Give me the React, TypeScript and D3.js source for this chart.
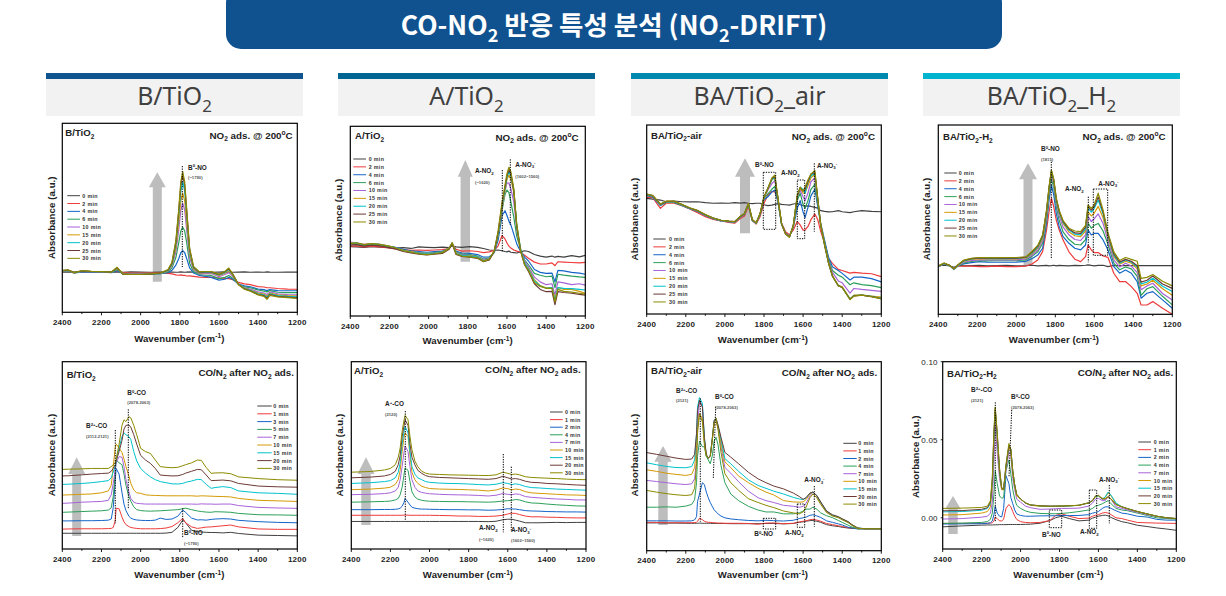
import React from "react";
import * as d3 from "d3";

const seriesColors = ["#404040", "#ee3b3b", "#1565c8", "#2ca05a", "#a763d8", "#d49a06", "#00c2cc", "#6b3a36", "#8c8a00"];
const namesTop = ["0 min", "2 min", "4 min", "6 min", "10 min", "15 min", "20 min", "25 min", "30 min"];
const namesB1 = ["0 min", "1 min", "3 min", "5 min", "7 min", "10 min", "15 min", "20 min", "30 min"];
const namesBot = ["0 min", "1 min", "2 min", "4 min", "7 min", "10 min", "15 min", "20 min", "30 min"];
const headers = ["B/TiO_{2}", "A/TiO_{2}", "BA/TiO_{2}_air", "BA/TiO_{2}_H_{2}"];
const headerColors = ["#0f548f", "#006593", "#0088ae", "#00b4d0"];
const xTicks = [2400, 2300, 2200, 2100, 2000, 1900, 1800, 1700, 1600, 1500, 1400, 1300, 1200];

// ---- B/TiO2, NO2 adsorption
const waveT1 = [2400,2370,2340,2300,2250,2200,2150,2120,2090,2050,2000,1950,1900,1860,1840,1820,1805,1795,1785,1775,1765,1750,1730,1700,1670,1640,1600,1570,1550,1530,1500,1470,1440,1400,1370,1355,1340,1300,1250,1200];
const t1 = [
[21.3,21.4,21.2,21.4,21.3,21.2,21.4,21.3,21.2,21.4,21.3,21.2,21.3,21.4,21.3,21.2,21.3,21.4,21.3,21.2,21.3,21.4,21.2,21.3,21.4,21.2,21.3,21.4,21.3,21.2,21.3,21.4,21.2,21.3,21.2,21.4,21.3,21.2,21.3,21.3],
[21.5,21.8,20.8,21.5,21.6,21.5,21.6,21.8,21,20.8,20.8,20.8,20.8,20.6,20.3,19.8,19.6,19.8,19.5,19.6,19.2,19.3,19,18.6,18.4,18.6,18.2,18,17.8,17.2,15.8,15,14.6,13.6,13.4,13,13,12.6,12.3,12.2],
[21.6,21.9,20.8,21.3,21.3,21.4,21,22,20.4,20.3,20.3,20.4,20.5,21,22.2,25,28.5,31.5,32.6,31.5,28.5,23.5,20.8,19.5,19,18.5,17,17.5,18.5,17.5,15,14,13.5,12.3,12,11.5,12,11.5,11.4,11.4],
[21.7,22,20.9,21.6,21.5,21.4,21.1,22.5,20.3,20.2,20.2,20.3,20.5,21.4,23.5,29,37,43,45,43,37,26,21.5,20,19.6,19.5,17.8,18.5,19.5,18,14.8,13.5,13,11.8,11.2,10.8,11.5,10.6,10.4,10.4],
[21.8,22,21,21.7,21.5,21.4,21.2,23,20.4,20.2,20.2,20.3,20.6,21.8,24.5,32,44,54,57.7,54,44,29,22.5,20.5,20.5,20.5,18.8,20,21,19,14.8,13,12.3,10.8,10.2,9.4,10.8,9.8,9.4,9.2],
[21.9,22.2,21,21.8,21.6,21.5,21.2,23.2,20.3,20.1,20.1,20.3,20.6,22,25,34,48,59,63,59,48,31,23,20.8,21,21,19.5,20.6,22,19.6,14.7,12.8,11.8,10.2,9.6,8.6,10.2,9.2,8.8,8.6],
[22,22.2,21,21.8,21.6,21.5,21.2,23.4,20.2,20,20,20.2,20.6,22.2,25.5,36,52,64,69,64,52,32.5,23.5,21,21.2,21.2,19.8,21,22.6,20,14.8,12.6,11.6,9.8,9.2,8,9.8,8.8,8.4,8.2],
[22,22.3,21.1,21.9,21.6,21.5,21.3,23.5,20.2,20,20,20.2,20.7,22.4,26,37,54,67,72.7,67,54,33.5,24,21.2,21.4,21.4,20,21.4,23,20.2,14.7,12.4,11.4,9.4,8.8,7.4,9.4,8.4,8,7.6],
[22.2,22.4,21,22,21.7,21.6,21.3,23.8,20.2,20,20,20.3,20.8,22.6,26.5,38,55,69,74.4,69,55,34,24.2,21.4,21.6,21.6,20.2,21.6,23.4,20.4,14.6,12.2,11.2,9.2,8.4,6.8,9,8.2,7.8,7.4],
];

// ---- A/TiO2, NO2 adsorption
const waveT2 = [2400,2370,2330,2290,2250,2210,2170,2130,2090,2050,2010,1970,1930,1895,1880,1860,1830,1790,1750,1720,1690,1665,1645,1625,1610,1600,1590,1580,1565,1550,1530,1510,1490,1460,1430,1400,1370,1355,1340,1310,1270,1230,1200];
const t2 = [
[36.6,36.4,36.2,36.5,36.3,36,35.8,36,35.6,36.4,36.2,36,36.3,36.1,37,36.4,36.2,36.6,36.2,35.6,34.8,34.6,34.8,34.4,34,33.8,34.2,33.6,33.4,33.2,33.8,34.4,34,32.4,31.6,31,31.6,31,31.4,31,31.8,31.2,32],
[36.8,37,36.4,36.8,36.4,36,35.4,35,34.6,34.8,34.6,34.8,35,35.6,37.8,35.2,34.2,34.4,34,33.4,33.8,34.6,37,42.4,40.6,38.5,36.8,35.8,34.8,34.2,33.6,32,30.4,28.4,27.4,27.4,28,26.5,28.6,28.4,28.2,28,28.3],
[38,37.8,37.2,37.8,37.4,36.8,36.2,35.2,34.4,34,33.6,34,34.2,35.6,38.2,34.2,33.2,33,32.4,31,31.2,33.4,40,53,55.5,53,50,48,43,38,34,31,29,24.5,23,22.5,22.6,18,24,23.8,23,22.6,22],
[38.4,38,37.4,38,37.6,36.8,36,34.8,34,33.4,33,33.4,33.8,35.8,38.4,33.8,32.6,32.4,31.6,30,30.6,33.6,42,56,64,66.4,65,60,52,42,35,29.5,27,22.5,21.5,20.7,21,15,22,21.5,21,20.6,20.4],
[39,38.6,37.8,38.2,37.8,37,36,34.6,33.8,33.2,32.8,33.2,33.6,35.8,38.6,33.4,32.2,32,31.2,29.6,30.2,34,43,57,66,70,70,67,60,46,35,29,26,20.5,18,16.5,17,11,18,17.5,16.5,17,16.3],
[38.6,38.4,37.6,38.2,37.6,37,35.8,34.6,33.8,33,32.6,33,33.6,35.8,38.6,33.2,32,31.8,31,29.2,30,34,43,57,66,72,74.3,72,65,48,35,28,25,19,16,14.8,15,9,15,14,14,13,12],
[38.2,38.6,37.4,38,37.8,36.8,36,34.4,33.6,33,32.6,33,33.4,35.6,38.4,33,32,31.6,31,29,30,34,43.5,58,67,73,76,74,66,48,35,28,24.5,18.5,15.8,14.6,15,8,15,14.6,14.4,14,13.7],
[37.4,37.6,36.8,37.4,37,36.2,35.4,34,33.2,32.6,32.2,32.6,33,35.2,38,32.4,31.4,31,30.4,28.6,29.6,34,44,59,68,74,77,75,66,47,34,27,23.5,17,14,12.8,13,6,12.8,12.4,12,11.4,11],
[38,38.6,37.6,38.2,37.8,37,36,34.4,33.6,32.8,32.4,32.8,33.4,35.6,38.6,32.8,31.6,31.2,30.6,28.8,30,34.4,45,60,69,75,78.4,76,67,48,34,27,24,17.6,15.6,14.6,14.6,7.5,14,13,12.6,12,11.5],
];

// ---- BA/TiO2-air, NO2 adsorption
const waveT3 = [2400,2370,2330,2300,2260,2220,2180,2140,2100,2060,2020,1980,1950,1920,1900,1880,1860,1840,1820,1800,1780,1760,1745,1730,1710,1690,1670,1650,1630,1615,1600,1590,1575,1560,1540,1525,1510,1490,1470,1450,1420,1400,1360,1340,1300,1250,1200];
const t3 = [
[61.2,60.8,60.3,59.4,59.8,59.4,59.3,59.4,58.9,58.6,58.7,58.6,58.9,58.7,58.9,58.6,58.4,58.6,58.6,57.8,57.3,57.6,58,58.4,58,57.8,57.6,58.2,58.6,57.8,57.4,56.9,57.2,56.9,56.4,56,54.7,54.3,54,54.1,54.7,54.1,53.6,54.1,54.7,54.3,54.1],
[61.7,61.7,55.9,58.6,58.6,57.3,55.6,53.6,51.5,50.1,49.2,48.5,48,50.6,51.9,56.8,49.4,47.6,51.5,58.6,63,64.8,64.8,60.4,48,43.6,41.9,44.4,48.9,47.1,44.4,44.4,46.3,49.9,52.9,49.9,43.7,37.5,29.5,26.8,23.6,23,21.6,22,21.6,21.3,19.8],
[62.6,62,57.4,59,59,57.4,55.7,54.3,52.2,50.4,49.3,48.8,48.5,51.3,52.7,58,49.5,47.9,52.7,60.5,62,64.5,65.6,60,47.6,42.7,40.9,46,56,60,54,51,56.4,62.5,66,56.8,48,39,30,25,23,21.5,18,19.5,19.5,18.7,17],
[62.8,62.2,57.6,59.2,59.2,57.5,55.8,54.4,52.3,50.5,49.4,48.9,48.6,51.4,52.8,58.1,49.6,48,52.8,61,63.5,66,67.5,60.5,47.6,42.7,40.9,46.4,60,64,58,56,60,66,68.5,58,47.5,38,29,23,20.5,19.5,15.5,16.5,15.5,15,14],
[63,62.4,57.8,59.4,59.4,57.7,55.9,54.5,52.4,50.6,49.4,48.9,48.7,51.5,52.9,58.2,49.7,48,52.9,61.5,65.5,69,70.5,61.5,47.6,42.7,40.9,46.6,62,65.5,62,60,64,70,72,60,47.5,37,28,22,17.5,16.5,11,13.5,13,12.5,12],
[63.2,62.6,58,59.6,59.5,57.9,56,54.6,52.5,50.7,49.5,49,48.8,51.6,53,58.3,49.8,48.1,53,61.7,66,71,72,62,47.6,42.5,40.8,46.6,62,66.5,64,64,68,72,74,61,47.5,37,27,20.5,15,14.5,8,10,10,9.5,9],
[63.1,62.5,57.9,59.5,59.4,57.8,56,54.6,52.4,50.7,49.5,49,48.8,51.6,53,58.2,49.8,48.1,53,61.7,66.5,71,72.5,62,47.5,42.6,40.8,46.8,62,67,66,64,70,73,74.5,61,47,36.5,27,20,15,14,8,9.8,10,9.3,8.3],
[63.3,62.7,58.1,59.6,59.6,57.9,56.1,54.7,52.5,50.8,49.6,49.1,48.9,51.7,53.1,58.4,49.9,48.2,53.1,61.8,66.5,71.5,73,62.2,47.6,42.5,40.7,46.8,62,67,65,66,70,74,75,61,47,36.5,27,20,15,14,7.8,9.6,10,9.2,8.2],
[63.4,62.8,58.2,59.7,59.7,58,56.2,54.8,52.6,50.8,49.6,49.1,48.9,51.8,53.2,58.5,50,48.2,53.2,62,66.5,72,73.5,62.5,47.7,42.4,40.6,47,63,67,65,67,71,74,76,61,47,36.5,27,20,15,14,7.6,9.5,10,9.2,8],
];

// ---- BA/TiO2-H2, NO2 adsorption
const waveT4 = [2400,2370,2340,2320,2300,2270,2230,2190,2150,2100,2050,2000,1950,1920,1890,1865,1845,1832,1820,1808,1795,1780,1760,1730,1700,1670,1645,1632,1615,1600,1580,1555,1530,1500,1470,1440,1410,1380,1360,1330,1300,1250,1200];
const t4 = [
[25.7,25.9,25.5,24.8,25.8,25.6,25.7,25.8,25.6,25.7,25.8,25.6,25.7,25.9,25.6,25.7,25.8,25.6,25.7,25.9,25.6,25.8,25.7,25.6,25.8,25.7,25.9,26.1,25.8,25.6,25.8,25.9,25.2,25.8,25.7,25.7,25.7,25.7,25.7,25.7,25.7,25.7,25.7],
[25.2,26.6,25.7,23.8,25.5,25.5,25.5,25.2,25.2,25.5,25.2,25.2,25.5,26.6,28.7,33.1,44.5,54.2,61.3,56.8,49.8,44.5,39.2,33,29.1,27.8,30.5,36.6,34,32.6,32.6,30.8,30.1,21.7,17.3,17.3,14.6,11.1,4.9,4.9,6.7,3.2,0],
[25.2,26.6,25.7,23.8,25.5,26.6,27.3,27.8,27.6,27.5,27.5,27.6,28,29.4,31.3,34.9,48,60.4,68.3,63,53.3,46.3,41,37.5,34.9,34,36.6,44.5,41.9,42.8,42.8,39.3,34,25.2,21.7,23.4,21.7,17.3,8.5,11.1,12,7.6,3.2],
[25.2,26.8,25.7,23.8,25.5,27,28,28.3,28.2,28.3,28.3,28.3,28.8,30.6,33,37.5,50,63,71.8,67,57,49.5,43.5,39.5,37,36.6,39.5,48,45.5,47,48,44,37,27,23.5,25,24,20,10,13.5,14.6,9.5,5],
[25.3,26.8,25.6,23.9,25.6,27.5,28.4,28.7,28.7,28.7,28.7,28.8,29.3,31.2,34,39,52,65,73.6,69,59,52,46,42,39.5,39,42,51.6,49,50.5,53,48,39,28.7,25,27,25.5,22,13,15,16.4,11,7.6],
[25.4,26.9,25.6,23.9,25.8,28,29,29.3,29.2,29.2,29.2,29.3,29.8,32,35,40,53,66,74.8,70,60,53.5,48,43.5,41.5,41,44,54,52,53.5,57,51,41,30.5,26.5,28,27,24,15,16,18,13.5,10],
[25.4,26.9,25.6,23.9,25.9,28.2,29.2,29.6,29.4,29.4,29.4,29.5,30,32.4,35.5,41,54,66.5,75.4,70.5,60.5,54,48.5,44.5,42.4,42,45,56,54,56,60.4,53,42,31.3,27,28.7,27.6,25,16,17,19,14.8,12],
[25.5,27,25.7,24,26,28.4,29.4,29.8,29.7,29.7,29.7,29.7,30.2,32.8,36,41.5,54.5,67,75.9,71,61,54.5,49,45,43,42.8,46,56.9,55,57,62,54,42.5,32,27.6,29,28,25.6,17,18,20.2,16,13.7],
[25.6,27.1,25.7,24,26.1,28.6,29.6,30,29.9,29.9,30,30,30.4,33.2,36.4,42,55,67.5,76.2,71.5,61.5,55,49.5,45.5,44,43.7,47,57.7,56,58,64,55,43,33,28.4,30,29,28,19,19.5,21,17.5,15],
];

// ---- B/TiO2, CO/N2
const waveB1 = [2400,2370,2300,2250,2200,2165,2150,2140,2130,2125,2110,2095,2085,2075,2060,2050,2035,2020,2000,1975,1950,1925,1900,1870,1840,1810,1785,1770,1740,1710,1690,1665,1640,1620,1580,1540,1500,1400,1300,1200];
const b1 = [
[8.4,8.4,8.4,8.4,8.4,8.4,8.4,8.4,8.4,8.4,8.4,8.4,8.4,8.4,8.4,8.4,8.4,8.4,8.4,8.4,8.4,8.4,8.4,8.5,8.9,11.5,15.5,14,10,9.3,9.1,8.9,8.8,8.8,8.6,8.9,8.3,7.4,7.2,7],
[10.6,10.7,10.8,10.8,10.8,10.9,11,11.5,15,21.7,21.5,17,14.5,13,12,11.5,11.2,11,10.8,10.8,10.8,10.8,10.9,11.2,12,14,16.4,14,11.8,11,11.3,11.7,11.8,12,12.4,12.8,11.8,10.7,10.5,10.5],
[15,15,15.1,15.1,15.2,15.4,16,22,36,43,40,30,24,20.5,17.5,16.5,15.8,15.5,15.3,15.2,15.2,15.4,16.5,15.8,16,17.5,20.8,19.5,16.5,15.5,15.6,15.4,15.8,16,16.2,16,15.3,14.6,14.2,14],
[19.6,19.7,20,20.2,20.4,20.8,22,28,40,47.5,46,45,40,34,28,25.5,22.5,21,20.5,20.3,20.2,20.3,20.4,20.6,20.8,21,21.5,21.8,21,20.3,20,19.7,19.6,19.9,19.8,19.6,19,18.3,18.2,18],
[24.4,24.5,25,25.2,25.4,26,29,35,42,46,49.3,49,44,37,30.5,27,25,24.4,24.2,24,24,24,24,24,24,24,24,24,24,23.9,24.1,24,24,23.9,24,24,23.2,22.2,21.9,21.7],
[28.8,28.9,29.2,29.4,30,31,34,44,54,56,54,51.5,48,44,39,35,31.5,30,29.7,28.9,28.7,28.6,28.5,28.4,28.4,28.4,28.4,28.4,28.4,28.2,28.4,28.3,28.2,28.1,28,27.8,27,26,25.7,25.4],
[34.5,34.6,35,35.4,36,36.5,38,41,44,47,54,60,62,61,60,58.5,52,47,43,40.5,38.5,37,36,35.4,34.8,34.7,35,35.6,36.3,37.2,37,34.5,32.4,32.8,33.3,32.8,31,30,29.7,29.2],
[39,39.1,39.6,40,40.3,40.5,41.5,43,45,47,52,58,64,66,66.2,65,61,56,50,47.5,45.7,43,39.5,39.2,39,39.1,39.8,40.5,41.5,42.5,42.3,39.5,36.5,36.6,36.8,36.4,35,33.6,33.2,33],
[42.5,42.6,42.8,43,43,43,44,45,46,48,56,66,69,68,70.6,70,66,61,53.7,52,51,47.5,44,43.6,43.4,43.6,44.5,45,46,47.5,47.3,43.5,40.4,40.6,40.7,40.2,38.5,37.6,37,36.7],
];

// ---- A/TiO2, CO/N2
const waveB2 = [2400,2300,2230,2200,2175,2160,2150,2140,2130,2125,2110,2100,2090,2075,2060,2040,2020,2000,1950,1900,1850,1800,1750,1700,1660,1625,1600,1580,1560,1540,1510,1480,1440,1400,1350,1300,1250,1200];
const b2 = [
[14.7,14.7,14.7,14.7,14.7,14.7,14.7,14.7,14.7,14.7,14.7,14.7,14.7,14.7,14.7,14.7,14.7,14.7,14.7,14.7,14.7,14.7,14.7,14.6,14.8,15.6,15.9,15.9,15.4,14.9,14,14,14,14.1,14.2,14.1,14.2,14.2],
[18,18,18,18,18,18,18,18,18.1,18.1,18.1,18,18,18,18,18,18,18,17.9,17.8,17.6,17.6,17.4,17.4,17.6,18,18.7,19.1,19,18.4,17.6,17.2,17.2,17,16.9,16.7,16.6,16.6],
[21,21,21.1,21.1,21.2,21.4,21.8,22.8,25,27,25,23.5,22.3,21.8,21.5,21.3,21.3,21.2,21.1,21,21,20.9,20.9,20.7,20.8,21.1,21.5,21.4,21.3,21,20.5,20.3,20.2,20,19.9,19.8,19.8,19.7],
[25,25.2,25.4,25.6,26.2,27,29,33,40,43.2,42,36,30.5,27.8,26.6,26,25.7,25.5,25.4,25.3,25.3,25.2,25.1,25,25.2,25.6,25.8,26,26.4,26.2,25.2,24.6,24.4,24,23.6,23.3,23,22.9],
[29,29.2,29.6,30,31,33,37,44,52,55,52,44,37,33,31,30.2,29.8,29.5,29.2,29,28.9,28.8,28.6,28.3,28.7,29.6,29.2,29,29.4,29.2,28,27.6,27.3,27,26.7,26.5,26.2,26.2],
[31.7,32,32.5,33,34.5,37,42,52,60,62,60,50,41,37,35,33.5,32.8,32.3,32,31.9,31.8,31.6,31.4,31,31.5,32.6,32.2,31.6,32,31.8,30.6,30,29.7,29.5,29.2,28.9,28.8,28.6],
[35,35.4,36,36.5,38,41,46,56,63,65.5,62,52,44,40,38,37,36,35.6,35.2,35,34.9,34.7,34.4,34.2,34.6,35.4,35,34.4,34.8,34.4,33.4,32.8,32.6,32.3,32,31.8,31.6,31.4],
[38,38.4,39,39.8,41.5,45,50,60,66,69,66,56,49,45,42,40.4,39.2,38.6,38.2,38,37.8,37.6,37.4,37.2,37.6,38.8,38,37.4,37.6,37.2,36.2,35.6,35.4,35,34.8,34.5,34.2,34],
[41,41.4,42.2,43,45,49,54,63,69,71.3,69,60,53,47,44,41.5,40.5,40,39.8,39.6,39.5,39.4,39.3,39.2,39.6,41,40.4,39.8,40,39.6,38.6,38.2,38,37.8,37.6,37.3,37.1,37],
];

// ---- BA/TiO2-air, CO/N2
const waveB3 = [2400,2350,2300,2250,2200,2170,2155,2145,2140,2130,2115,2105,2095,2085,2075,2065,2055,2045,2035,2020,2000,1970,1930,1880,1830,1790,1750,1700,1650,1620,1600,1585,1565,1550,1530,1510,1480,1450,1420,1400,1370,1350,1320,1280,1200];
const b3 = [
[14.7,14.7,14.6,14.6,14.5,14.5,14.5,14.5,14.5,14.6,14.5,14.5,14.5,14.5,14.5,14.4,14.4,14.4,14.4,14.4,14.4,14.3,14.3,14.3,14.3,14.4,14.4,14.2,14.4,15,15.3,15.6,15.9,16,15.6,15,13.8,13.2,12.8,12.4,12,11.8,11.6,11.6,11.6],
[15,15,14.8,14.8,14.8,14.8,14.9,15,15.5,17.2,16.4,15.6,15.2,15,15,14.9,14.8,14.7,14.6,14.6,14.5,14.5,14.5,14.4,14,14.6,14.7,14.3,14.5,15.2,15.6,15.8,16.4,16.6,16.2,15.6,14.4,13.8,13.2,12.8,12.2,12,11.7,11.6,11.6],
[15.8,15.8,15.8,15.7,15.7,15.8,16.3,18,26,30,36,35,31,28,25.5,23.5,21.6,20.5,19.5,18.3,17.4,16.8,16.4,16,15.8,16.1,15.9,15.7,16.1,17,17.4,17.8,18.7,19,18.4,17.6,15.8,15,14.2,13.6,12.4,12,11.6,11.6,11.6],
[23,23,23.2,23,23.6,24.5,27,36,50,58,55,55,50,48,46,50,58,60,56,45,36,30,26.5,23.5,21.5,20.5,20.5,19.5,19.5,20,21,22,22,23,22,20,18.5,17.5,16,15,13.5,12.5,11.6,11.6,11.6],
[37.2,36.6,36,35.4,35,35.4,38,48,65,79.6,76,58,50,49,50,58,68,69,65,55,44,41,36.5,31.5,28,26.5,25.5,24,23.5,23,23.5,25,29,31,29,25.5,20.5,18.6,17.7,16.5,15,13.5,11.8,11.6,11.6],
[42.8,42,41,40.4,39.8,40.4,44,56,65,72.5,70,58,50,49,50,58,67,68,65,57,47,44,39.5,36,33,31,29.5,26.5,25.8,25.7,25.8,27,30,31,29,25.5,20.8,18.8,17.8,16.7,15.2,13.6,11.9,11.6,11.6],
[46.5,45.5,44.6,44,43.9,44.5,48,62,76,81,78,60,50,49,50,59,69,70,66,59,48.7,46,42,37.5,34.5,33,31.5,30,28.2,27.4,27,28,30.5,31,29.2,25.8,21,18.9,17.9,16.8,15.3,13.7,12,11.6,11.6],
[51.9,51,50,49,48.3,48.5,51,62,74,79.6,76,60,51,49,50,59,69,70,66.5,60,52,49.5,46,41.5,38,36,34.2,32.7,30.5,28.7,27.2,28,30.5,31,29.2,25.8,21,19,18,16.9,15.4,13.8,12,11.6,11.6],
[31.9,31,30.2,29.6,29.2,29.6,33,46,62,72.5,68,56,50,49,50,58,68,70,64,52,40.7,36,32,27.5,25.5,24,22.8,21,20,19.5,20.5,23,28,30,28,24.5,20.2,18.4,17.5,16.4,14.9,13.4,11.8,11.6,11.6],
];

// ---- BA/TiO2-H2, CO/N2 (absorbance x 1000)
const waveB4 = [2400,2300,2200,2170,2155,2145,2137,2130,2120,2108,2097,2087,2075,2060,2050,2040,2030,2020,2000,1975,1950,1900,1850,1820,1790,1750,1700,1650,1630,1615,1600,1580,1565,1550,1535,1510,1480,1450,1400,1350,1300,1250,1200];
const b4 = [
[-5.8,-5.2,-4.7,-4.6,-4.6,-4.6,-4.5,-4.5,-4.5,-4.4,-4.4,-4.4,-4.4,-4.3,-4.3,-4.3,-4.3,-4.3,-4.3,-4.2,-4.1,-3.5,-1.8,0,1,-0.5,-2,-1.5,-0.2,0.4,1,1.5,1.7,1.2,0.2,-1.2,-2.5,-3.2,-4.8,-5.6,-6.5,-7.2,-8],
[-3.6,-3.6,-3.5,-3.5,-3.4,-3.2,-2,0.5,-0.5,-2,-2,-1,6,8.5,7,4,1,-1,-2.5,-3,-3.2,-3,-1.8,1.5,2.6,1,-0.5,-0.2,1,1.6,2,3,3.4,3,2,0,-0.5,-1.5,-3,-3.2,-3.4,-3.5,-3.6],
[-4,-3.9,-3.8,-3.6,-3.2,-2,2,7.5,3,1,0.5,6,27,22,13,9,5,2.5,1.5,1,1,1.2,1.3,1.3,1.5,1.4,1.5,2,3,3.4,4,6,7,7,6,4.5,3,2.5,1,0.5,-1,-1.5,-1.5],
[-3.6,-3.4,-3,-2.4,-1,3,15,30,22,14,12.5,13,30,37,28,18,12,8,6,4.4,3.5,2.8,2.6,2.6,2.8,3.2,4,5,6,7.5,8,9,10,11,9,6,5,4.5,3,1.5,0,-0.5,-0.8],
[-0.8,-0.5,0.4,1,3,10,35,60,42,25,18,20,30,42,40,25,18,12,10,7.5,6.5,5.4,5.6,5.8,6,6,6.2,7.5,9.5,12,12.4,11,11,13.5,12,7,6,5,3.5,2,0.8,-0.2,-0.5],
[1.8,2,3,4,7,20,50,68,50,28,18,18,32,45,42,28,20,14,12,9.5,8,7.4,7.2,7.3,7.4,7.6,8,9.5,11,13.5,14,12,13,16,14,9,7,5.8,4,2.5,1,0,-0.5],
[3.8,4,4.8,6,9,23,52,69,52,30,19,18,33,46,44,30,21,15,12,9.5,8.2,7.6,7.4,7.4,7.5,7.6,8,9.6,11,13.6,14,12,13.4,16.5,14.5,9.5,7,5.8,4,2.5,1,0,-0.5],
[4.5,4.6,5.4,6.5,10,25,54,70,54,31,19,18,33,46,44,30,21,15,12,9.5,8.3,7.7,7.5,7.5,7.5,7.7,8,9.6,11,14,14.4,12,12,13.5,12,8.5,7,5.8,4,2.5,1,0,-0.5],
[6,6.2,6.6,7.5,11,26,56,71,55,32,19,18,34,47.6,44,30,21,15,12,9.6,8.2,7.6,7.4,7.5,7.6,7.7,8,9.6,11,14,14.2,12.5,12.2,13.5,12,8.5,7,5.8,4,2.5,1,0,-0.5],
];

const FONT = "'Liberation Sans', Arial, sans-serif";

function Rich({ text, x, y, size, anchor = "start", weight = 700, fill = "#000", family = FONT, spacing = 0, rotate }: any) {
  const parts = text.split(/([_^]\{[^}]*\})/).filter((p: string) => p !== "");
  let shift = 0;
  const spans = parts.map((p: string, i: number) => {
    const m = p.match(/^([_^])\{(.*)\}$/);
    if (m) {
      const target = m[1] === "_" ? size * 0.28 : -size * 0.36;
      const dy = target - shift;
      shift = target;
      return <tspan key={i} dy={dy} fontSize={size * 0.68}>{m[2]}</tspan>;
    }
    const dy = -shift;
    shift = 0;
    return <tspan key={i} dy={dy}>{p}</tspan>;
  });
  return (
    <text x={x} y={y} fontSize={size} textAnchor={anchor} fontWeight={weight} fill={fill} fontFamily={family}
      letterSpacing={spacing} transform={rotate ? `rotate(-90 ${x} ${y})` : undefined} style={{ whiteSpace: "pre" }}>
      {spans}
    </text>
  );
}

function Arrow({ x, tip, base, hw, sw, bottom }: any) {
  const path = d3.path();
  path.moveTo(x, tip);
  path.lineTo(x + hw, base);
  path.lineTo(x + sw, base);
  path.lineTo(x + sw, bottom);
  path.lineTo(x - sw, bottom);
  path.lineTo(x - sw, base);
  path.lineTo(x - hw, base);
  path.closePath();
  return <path d={path.toString()} fill="#bdbdbd" />;
}

const dash = { stroke: "#000", strokeWidth: 1, strokeDasharray: "1.3 1.2", fill: "none" };

function Panel({ cfg, id }: any) {
  const { box, wave, rows, names, legend, title, right, xLabel, yLabel, arrow, notes, lines, boxes, domain, yTicks, lw } = cfg;
  const [x0, x1, y0, y1] = box;
  const x = d3.scaleLinear().domain([2400, 1200]).range([x0, x1]);
  const y = d3.scaleLinear().domain(domain || [0, 100]).range([y1, y0]);
  const line = d3.line<any>().x((d) => x(d[0])).y((d) => y(d[1]));
  return (
    <g>
      <clipPath id={id}><rect x={x0} y={y0} width={x1 - x0} height={y1 - y0} /></clipPath>
      <rect x={x0} y={y0} width={x1 - x0} height={y1 - y0} fill="#fff" />
      <Arrow {...arrow} />
      <g clipPath={`url(#${id})`}>
        {rows.map((r: number[], i: number) => (
          <path key={i} d={line(d3.zip(wave, r)) || ""} fill="none" stroke={seriesColors[i]} strokeWidth={lw || 1} strokeLinejoin="round" />
        ))}
      </g>
      {(lines || []).map((l: number[], i: number) => (
        <line key={i} x1={l[0]} y1={l[1]} x2={l[2]} y2={l[3]} {...dash} />
      ))}
      {(boxes || []).map((b: number[], i: number) => (
        <rect key={i} x={b[0]} y={b[1]} width={b[2] - b[0]} height={b[3] - b[1]} {...dash} />
      ))}
      <rect x={x0} y={y0} width={x1 - x0} height={y1 - y0} fill="none" stroke="#000" strokeWidth={1.2} />
      {xTicks.map((t, i) => (
        <line key={t} x1={x(t)} x2={x(t)} y1={y1} y2={y1 + (i % 2 ? 1.8 : 3)} stroke="#000" strokeWidth={0.9} />
      ))}
      {xTicks.filter((_, i) => i % 2 === 0).map((t) => (
        <text key={t} x={x(t)} y={y1 + 12.6} textAnchor="middle" fontSize={8} fontWeight={700} fontFamily={FONT} letterSpacing={0.25} fill="#222">{t}</text>
      ))}
      {(yTicks || []).map((t: number) => (
        <g key={t}>
          <line x1={x0 - 2} x2={x0} y1={y(t)} y2={y(t)} stroke="#000" strokeWidth={0.8} />
          <text x={x0 - 5} y={y(t) + 3} textAnchor="end" fontSize={8} fontFamily={FONT} fontWeight={400} letterSpacing={0.2} fill="#222">{(t / 1000).toFixed(2)}</text>
        </g>
      ))}
      <Rich text={"Wavenumber (cm^{-1})"} x={xLabel[0]} y={xLabel[1]} size={9.6} anchor="middle" fill="#222" spacing={0.1} />
      <Rich text={"Absorbance (a.u.)"} x={yLabel[0]} y={yLabel[1]} size={9.6} anchor="middle" rotate fill="#222" spacing={0.1} />
      <Rich text={title[0]} x={title[1]} y={title[2]} size={9.6} fill="#222" />
      <Rich text={right[0]} x={right[1]} y={right[2]} size={9.8} anchor="end" fill="#222" />
      {names.map((n: string, i: number) => {
        const ly = legend[3] + i * legend[4];
        return (
          <g key={n}>
            <line x1={legend[0]} x2={legend[1]} y1={ly} y2={ly} stroke={seriesColors[i]} strokeWidth={1} />
            <text x={legend[2]} y={ly + 2} fontSize={5.3} fontWeight={700} fontFamily={FONT} letterSpacing={0.35} fill="#333">{n}</text>
          </g>
        );
      })}
      {(notes || []).map((n: any[], i: number) => (
        <Rich key={i} text={n[0]} x={n[1]} y={n[2]} size={n[3] || 6.4} fill={n[3] ? "#555" : "#222"} />
      ))}
    </g>
  );
}

const NO2T = "NO_{2} ads. @ 200^{o}C";
const COT = "CO/N_{2} after NO_{2} ads.";

const panels = [
  { wave: waveT1, rows: t1, names: namesTop, lw: 1.2, box: [62.3, 297.3, 123.3, 312.3], legend: [67.3, 80, 82.3, 195.7, 7.83],
    title: ["B/TiO_{2}", 65.3, 136], right: [NO2T, 292.7, 138.7], xLabel: [179.3, 341.7], yLabel: [54.7, 217.7],
    arrow: { x: 157.3, tip: 172.3, base: 187.3, hw: 8.5, sw: 4.5, bottom: 281.7 },
    notes: [["B^{0}-NO", 188, 169.5], ["(~1790)", 188, 178.5, 4.2]], lines: [[182.3, 166, 182.3, 267]] },
  { wave: waveT2, rows: t2, names: namesTop, lw: 1.2, box: [350.3, 585.3, 126.3, 316], legend: [353.3, 366, 368.7, 159, 7.87],
    title: ["A/TiO_{2}", 355, 139], right: [NO2T, 578.7, 140.7], xLabel: [467.7, 344], yLabel: [342, 220],
    arrow: { x: 465.3, tip: 160, base: 176.7, hw: 7.5, sw: 4.7, bottom: 261.7 },
    notes: [["A-NO_{2}", 475, 173.3], ["(~1620)", 475, 184, 4.2], ["A-NO_{3}^{-}", 515.3, 166.7], ["(1602~1560)", 515.3, 178.3, 4.2]],
    lines: [[502.3, 170, 502.3, 251.7], [510.3, 159.3, 510.3, 225]] },
  { wave: waveT3, rows: t3, names: namesTop, lw: 1.2, box: [646.7, 881.3, 125, 314], legend: [653.3, 665.7, 669, 239, 7.87],
    title: ["BA/TiO_{2}-air", 651, 138.7], right: [NO2T, 875, 140], xLabel: [763, 343.3], yLabel: [638.3, 219],
    arrow: { x: 745, tip: 158.3, base: 176.7, hw: 10, sw: 5, bottom: 233.3 },
    notes: [["B^{0}-NO", 755, 167.3], ["A-NO_{2}", 781, 175], ["A-NO_{3}^{-}", 817, 167.7]],
    lines: [[814.3, 163.3, 814.3, 231.7]], boxes: [[763.3, 172.3, 775.7, 229.3], [797.3, 180, 804.7, 238.7]] },
  { wave: waveT4, rows: t4, names: namesTop, lw: 1.2, box: [938.3, 1172.3, 125, 314.3], legend: [944.3, 956.7, 958.7, 173, 7.87],
    title: ["BA/TiO_{2}-H_{2}", 943, 140], right: [NO2T, 1165.7, 140], xLabel: [1054, 343.3], yLabel: [929.7, 219],
    arrow: { x: 1028, tip: 163.3, base: 179.3, hw: 9, sw: 4.5, bottom: 265 },
    notes: [["B^{0}-NO", 1041, 151.3], ["(1815)", 1041, 160.7, 4.2], ["A-NO_{2}", 1065, 191], ["A-NO_{3}^{-}", 1098.3, 185.7]],
    lines: [[1051.3, 161.7, 1051.3, 259.3], [1088.3, 196.7, 1088.3, 262.3]], boxes: [[1093.3, 189, 1107.7, 255.3]] },
  { wave: waveB1, rows: b1, names: namesB1, box: [62.3, 297.3, 361.7, 549], legend: [257.3, 271.7, 273.3, 406, 7.8],
    title: ["B/TiO_{2}", 66.7, 378.3], right: [COT, 294, 376], xLabel: [179.3, 578.3], yLabel: [54.7, 455],
    arrow: { x: 76.7, tip: 457.3, base: 474, hw: 8.5, sw: 4.5, bottom: 536 },
    notes: [["B^{0}-CO", 127.3, 395.3], ["(2078-2063)", 127.3, 404.3, 4.2], ["B^{2+}-CO", 86, 428.3], ["(2112-2121)", 86, 437.7, 4.2], ["B^{0}-NO", 184, 535], ["(~1790)", 184, 544.7, 4.2]],
    lines: [[115.3, 430, 115.3, 523.3], [128.3, 409.3, 128.3, 508.3], [182.7, 508.3, 182.7, 538.3]] },
  { wave: waveB2, rows: b2, names: namesBot, box: [351.3, 586, 361.7, 549], legend: [550, 562.7, 565, 412, 7.6],
    title: ["A/TiO_{2}", 354, 374], right: [COT, 580.7, 373.3], xLabel: [468, 578], yLabel: [343.3, 455],
    arrow: { x: 366, tip: 457.3, base: 474, hw: 8.5, sw: 4.7, bottom: 525 },
    notes: [["A^{+}-CO", 385, 406], ["(2120)", 385, 415.7, 4.2], ["A-NO_{2}", 479, 530.3], ["(~1620)", 479, 540.7, 4.2], ["A-NO_{3}^{-}", 511, 532.3], ["(1602~1560)", 511, 542.3, 4.2]],
    lines: [[405.3, 411, 405.3, 520], [503.3, 454, 503.3, 532.3], [511.3, 466.7, 511.3, 531.7]] },
  { wave: waveB3, rows: b3, names: namesBot, box: [646.7, 881.3, 361.7, 550.7], legend: [843.3, 856.7, 858.3, 443.3, 7.6],
    title: ["BA/TiO_{2}-air", 651, 374.3], right: [COT, 877.3, 376], xLabel: [763, 578.3], yLabel: [638.3, 455],
    arrow: { x: 663, tip: 446, base: 461.7, hw: 8.7, sw: 4.7, bottom: 525 },
    notes: [["B^{2+}-CO", 676, 393], ["(2121)", 676, 402.3, 4.2], ["B^{0}-CO", 715, 399], ["(2078-2063)", 715, 408.7, 4.2], ["A-NO_{3}^{-}", 804.3, 482], ["B^{0}-NO", 754.3, 536], ["A-NO_{2}", 785, 535]],
    lines: [[700.3, 398.3, 700.3, 521.7], [715.7, 406.7, 713.3, 478.3], [814.3, 486, 814.3, 526.7]],
    boxes: [[763.3, 518.3, 775.7, 529], [797.3, 504, 804.7, 527.3]] },
  { wave: waveB4, rows: b4, names: namesBot, box: [942.7, 1176.3, 361.7, 549], legend: [1138.3, 1151, 1153.7, 442, 7.7],
    domain: [-20, 100], yTicks: [0, 50, 100],
    title: ["BA/TiO_{2}-H_{2}", 947, 376.7], right: [COT, 1173.3, 376], xLabel: [1058.3, 578], yLabel: [919, 456.7],
    arrow: { x: 953, tip: 496, base: 509.3, hw: 8, sw: 4.7, bottom: 534 },
    notes: [["B^{2+}-CO", 971, 392.3], ["(2121)", 971, 401.7, 4.2], ["B^{0}-CO", 1011, 399], ["(2078-2063)", 1011, 408.7, 4.2], ["A-NO_{3}^{-}", 1099, 481.7], ["B^{0}-NO", 1042, 536.7], ["A-NO_{2}", 1080, 534]],
    lines: [[995.3, 402.3, 995.3, 521.7], [1011.7, 410, 1009, 476.7], [1109.3, 485, 1109.3, 523.3]],
    boxes: [[1049.3, 510, 1061.7, 527.7], [1089.3, 490, 1096.7, 528.3]] },
];

const headerX = [46, 338, 631, 923];

export default function App() {
  return (
    <svg width={1226} height={596} viewBox="0 0 1226 596" style={{ position: "absolute", left: 0, top: 0, background: "#fff" }}>
      <rect x={226} y={-12} width={776} height={61} rx={15} fill="#0f528f" />
      <Rich text={"CO-NO_{2} 반응 특성 분석 (NO_{2}-DRIFT)"} x={614} y={35} size={26.5} anchor="middle" fill="#fff" weight={700} family={"'Noto Sans CJK KR', 'Noto Sans', sans-serif"} />
      {headers.map((h, i) => (
        <g key={h}>
          <rect x={headerX[i]} y={79} width={257} height={37} fill="#f2f2f2" />
          <rect x={headerX[i]} y={73} width={257} height={6} fill={headerColors[i]} />
          <Rich text={h} x={headerX[i] + 128.5} y={105} size={24.8} anchor="middle" weight={400} fill="#404040" family={"'Noto Sans', sans-serif"} />
        </g>
      ))}
      {panels.map((p, i) => <Panel key={i} cfg={p} id={`plot-${i}`} />)}
    </svg>
  );
}
